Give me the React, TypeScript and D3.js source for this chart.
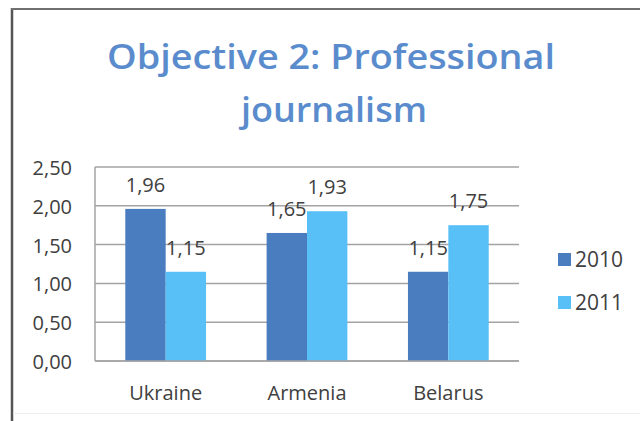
import React from "react";
import * as d3 from "d3";

const categories = ["Ukraine", "Armenia", "Belarus"];
const seriesNames = ["2010", "2011"];
const values2010 = [1.96, 1.65, 1.15];
const values2011 = [1.15, 1.93, 1.75];
const yTicks = [0, 0.5, 1, 1.5, 2, 2.5];
const titleLines = ["Objective 2: Professional", "journalism"];

const W = 640;
const H = 421;
const colors = ["#4A7CC0", "#58BFF7"];
const font = "'Open Sans', 'Liberation Sans', sans-serif";
const fmt = (v: number) => v.toFixed(2).replace(".", ",");

export default function App() {
  const plot = { left: 95, right: 519, top: 167, bottom: 361 };
  const y = d3.scaleLinear().domain([0, 2.5]).range([plot.bottom, plot.top]);
  const x0 = d3
    .scaleBand<string>()
    .domain(categories)
    .range([plot.left, plot.right])
    .paddingInner(3 / 7)
    .paddingOuter(1.5 / 7);
  const x1 = d3
    .scaleBand<string>()
    .domain(seriesNames)
    .range([0, x0.bandwidth()])
    .padding(0);
  const series = [values2010, values2011];

  return (
    <div style={{ position: "absolute", left: 0, top: 0 }}>
      <svg width={W} height={H} style={{ display: "block", background: "#fff" }}>
        <rect x={0} y={0} width={W} height={H} fill="#ffffff" />
        {/* frame */}
        <line x1={12} y1={8} x2={12} y2={H} stroke="#555" strokeWidth={2.5} />
        <line x1={11} y1={9} x2={W} y2={9} stroke="#707070" strokeWidth={2} />
        <line x1={13} y1={413.5} x2={W} y2={413.5} stroke="#ececec" strokeWidth={1} />

        {/* title */}
        <g fill="#5A8CCD" fontFamily={font} fontWeight={600} fontSize={35} textAnchor="middle">
          <text x={331} y={69} textLength={448} lengthAdjust="spacingAndGlyphs">
            {titleLines[0]}
          </text>
          <text x={334} y={122} textLength={186} lengthAdjust="spacingAndGlyphs">
            {titleLines[1]}
          </text>
        </g>

        {/* gridlines */}
        {yTicks.map((t) => (
          <line
            key={"g" + t}
            x1={plot.left}
            x2={plot.right}
            y1={y(t)}
            y2={y(t)}
            stroke="#a3a3a3"
            strokeWidth={1.5}
          />
        ))}
        <line x1={plot.left} x2={plot.left} y1={plot.top} y2={plot.bottom} stroke="#a3a3a3" strokeWidth={1.5} />

        {/* y tick labels */}
        {yTicks.map((t) => (
          <text
            key={"t" + t}
            x={72}
            y={y(t) + 8}
            textAnchor="end"
            fontFamily={font}
            fontSize={20}
            fill="#404040"
          >
            {fmt(t)}
          </text>
        ))}

        {/* bars */}
        {categories.map((c, i) => (
          <g key={c} transform={`translate(${x0(c)},0)`}>
            {seriesNames.map((s, j) => {
              const v = series[j][i];
              return (
                <rect
                  key={s}
                  x={x1(s)}
                  y={y(v)}
                  width={x1.bandwidth()}
                  height={y(0) - y(v)}
                  fill={colors[j]}
                />
              );
            })}
          </g>
        ))}
        <line x1={plot.left} x2={plot.right} y1={plot.bottom} y2={plot.bottom} stroke="#a3a3a3" strokeWidth={1.5} />

        {/* data labels */}
        {categories.map((c, i) =>
          seriesNames.map((s, j) => {
            const v = series[j][i];
            return (
              <text
                key={c + s}
                x={(x0(c) as number) + (x1(s) as number) + x1.bandwidth() / 2}
                y={y(v) - 17}
                textAnchor="middle"
                fontFamily={font}
                fontSize={20}
                fill="#404040"
              >
                {fmt(v)}
              </text>
            );
          })
        )}

        {/* category labels */}
        {categories.map((c) => (
          <text
            key={"c" + c}
            x={(x0(c) as number) + x0.bandwidth() / 2}
            y={400}
            textAnchor="middle"
            fontFamily={font}
            fontSize={20}
            fill="#404040"
          >
            {c}
          </text>
        ))}

        {/* legend */}
        {seriesNames.map((s, j) => (
          <g key={"l" + s} transform={`translate(558,${253 + j * 43})`}>
            <rect x={0} y={0} width={13} height={13} fill={colors[j]} />
            <text x={17} y={14} fontFamily={font} fontSize={21} fill="#404040">
              {s}
            </text>
          </g>
        ))}
      </svg>
    </div>
  );
}
